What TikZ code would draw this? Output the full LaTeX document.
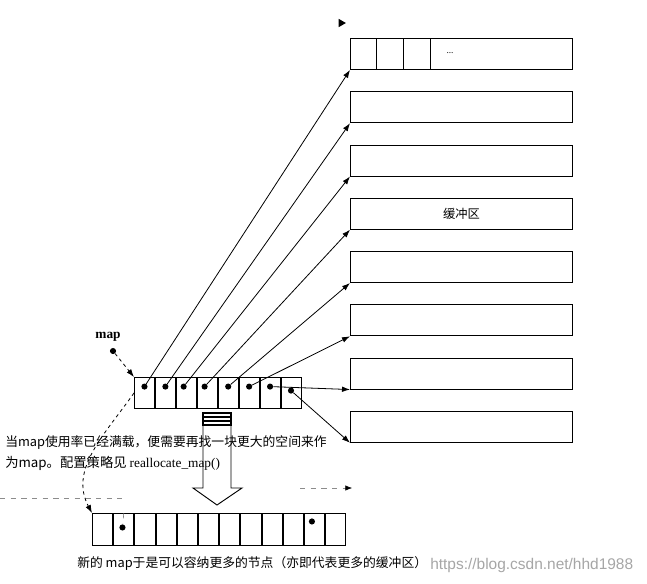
\documentclass[tikz,border=0pt]{standalone}
\usepackage{fontspec}
\setmainfont{Liberation Serif}
\newfontfamily\cjk{Noto Sans CJK SC}
\newfontfamily\wmfont{Liberation Sans}
\usepackage{tikz}
\usetikzlibrary{shapes.geometric, arrows.meta, positioning}
\tikzset{
  buffer/.style={rectangle, draw, minimum width=166.5pt, minimum height=23.25pt,
                 inner sep=0pt, line width=0.7pt, font=\cjk\fontsize{9.2}{11}\selectfont},
  cell/.style={rectangle, draw, minimum width=15pt, minimum height=23.25pt,
               inner sep=0pt, line width=0.7pt},
  newcell/.style={cell, minimum width=15.2pt, minimum height=24pt},
  dot/.style={circle, fill, inner sep=0pt, minimum size=4.6pt},
  arrow/.style={-{Latex[length=6pt,width=4.2pt]}, line width=0.6pt},
  pointer/.style={arrow, dash pattern=on 2.5pt off 2.5pt},
  faint/.style={dash pattern=on 4pt off 4pt, line width=0.4pt, black!45},
  tipmark/.style={isosceles triangle, isosceles triangle apex angle=60, fill,
                  inner sep=0pt, minimum size=5.5pt},
  note/.style={anchor=west, inner sep=0pt, font=\cjk\fontsize{10}{12}\selectfont}
}

\begin{document}
\begin{tikzpicture}[x=0.75pt, y=-0.75pt, node distance=16pt and 0pt]
    \useasboundingbox (0,0) rectangle (647,583);

    % buffers
    \node[buffer, anchor=north west] (b1) at (350,38) {};
    \node[buffer, below=of b1] (b2) {};
    \node[buffer, below=of b2] (b3) {};
    \node[buffer, below=of b3] (b4) {缓冲区};
    \node[buffer, below=of b4] (b5) {};
    \node[buffer, below=of b5] (b6) {};
    \node[buffer, below=of b6] (b7) {};
    \node[buffer, below=of b7] (b8) {};
    \foreach \dx in {19.5pt, 39.75pt, 60pt}
      \draw[line width=0.7pt] ([xshift=\dx]b1.south west) -- ([xshift=\dx]b1.north west);
    \node[font=\scriptsize] (dots) at (450,53) {...};
    \node[tipmark] (topmark) at (341,23) {};

    % old map
    \node[cell, anchor=north west] (m1) at (134,377) {};
    \node[cell, right=of m1] (m2) {};
    \node[cell, right=of m2] (m3) {};
    \node[cell, right=of m3] (m4) {};
    \node[cell, right=of m4] (m5) {};
    \node[cell, right=of m5] (m6) {};
    \node[cell, right=of m6] (m7) {};
    \node[cell, right=of m7] (m8) {};
    \node[dot] (d1) at ([yshift=4.8pt]m1.center) {};
    \node[dot] (d2) at ([yshift=4.8pt]m2.center) {};
    \node[dot] (d3) at ([xshift=-2pt, yshift=4.8pt]m3.center) {};
    \node[dot] (d4) at ([xshift=-2pt, yshift=4.8pt]m4.center) {};
    \node[dot] (d5) at ([yshift=4.8pt]m5.center) {};
    \node[dot] (d6) at ([yshift=4.8pt]m6.center) {};
    \node[dot] (d7) at ([yshift=4.8pt]m7.center) {};
    \node[dot] (d8) at ([yshift=1.8pt]m8.center) {};

    \draw[arrow] (d1) -- (b1.south west);
    \draw[arrow] (d2) -- (b2.south west);
    \draw[arrow] (d3) -- (b3.south west);
    \draw[arrow] (d4) -- (b4.south west);
    \draw[arrow] (d5) -- (b5.south west);
    \draw[arrow] (d6) -- (b6.south west);
    \draw[arrow] (d7) -- (b7.south west);
    \draw[arrow] (d8) -- (b8.south west);

    \node[font=\bfseries\fontsize{10}{12}\selectfont] (maplabel) at (108,337) {map};
    \node[dot] (mapdot) at (113,351) {};
    \draw[pointer] (mapdot) -- (m1.north west);

    % reallocation
    \node[note, font=\cjk\fontsize{9.6}{12}\selectfont] (note1) at (5,443)
        {当map使用率已经满载，便需要再找一块更大的空间来作};
    \node[note] (note2) at (5,463) {为map。配置策略见 {\rmfamily reallocate\_map()}};
    \draw[line width=0.7pt] (203,425) -- (203,488) -- (193,488) -- (217,505)
        -- (242,488) -- (231,488) -- (231,425) -- cycle;
    \draw[line width=0.8pt] (203,413) rectangle (231,425);
    \draw[line width=0.8pt] (203,417) -- (231,417) (203,421) -- (231,421);

    \coordinate (fl0) at (0,498);
    \coordinate (fl1) at (122,498);
    \draw[faint] (fl0) -- (fl1);
    \coordinate (fr0) at (300,488);
    \coordinate (fr1) at (352,488);
    \draw[faint, -{Latex[length=5pt,width=4pt,black]}] (fr0) -- (fr1);

    % new map
    \node[newcell, anchor=north west] (n1) at (92,513) {};
    \node[newcell, right=of n1] (n2) {};
    \node[newcell, right=of n2] (n3) {};
    \node[newcell, right=of n3] (n4) {};
    \node[newcell, right=of n4] (n5) {};
    \node[newcell, right=of n5] (n6) {};
    \node[newcell, right=of n6] (n7) {};
    \node[newcell, right=of n7] (n8) {};
    \node[newcell, right=of n8] (n9) {};
    \node[newcell, right=of n9] (n10) {};
    \node[newcell, right=of n10] (n11) {};
    \node[newcell, right=of n11] (n12) {};
    \node[dot] (nd1) at ([xshift=-1pt, yshift=1.5pt]n2.center) {};
    \node[dot] (nd2) at ([xshift=-2pt, yshift=6pt]n11.center) {};
    \draw[faint, black!60] (n2.north) -- (nd1);
    \draw[pointer] (m1.west) to[out=235, in=118] (n1.north west);

    \node[note, font=\cjk\fontsize{9.6}{12}\selectfont] (note3) at (77,563)
        {新的 map于是可以容纳更多的节点（亦即代表更多的缓冲区）};
    \node[anchor=west, inner sep=0pt, text=black!35, font=\wmfont\fontsize{11.6}{13}\selectfont]
        (wm) at (430,565) {https://blog.csdn.net/hhd1988};
\end{tikzpicture}
\end{document}
